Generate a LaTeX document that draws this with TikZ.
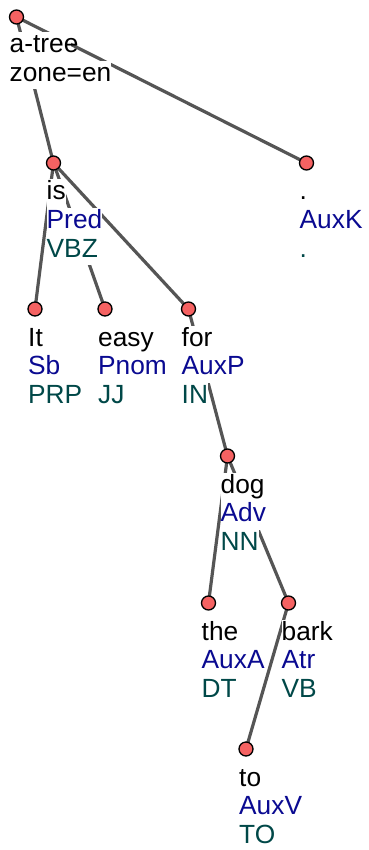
\documentclass[tikz,border=0pt]{standalone}
\usepackage{fontspec}
\setmainfont{Liberation Sans}
\definecolor{edgegray}{RGB}{85,85,85}
\definecolor{nodered}{RGB}{245,98,98}
\definecolor{funcblue}{RGB}{10,10,145}
\definecolor{posteal}{RGB}{0,72,72}
\pgfdeclarelayer{bg}
\pgfsetlayers{bg,main}
\tikzset{
  edge/.style={draw=edgegray, line width=3.2pt},
  tnode/.style={circle, draw=black, fill=nodered, line width=1.3pt, minimum size=14pt, inner sep=0pt},
  lbl/.style={anchor=base west, fill=white, inner sep=0pt, text height=20.5pt, text depth=8pt,
              font=\fontsize{26.3}{28.5}\selectfont},
}
\newcommand\tlbl[4]{%
  \node[lbl, text=black,    xshift=-7pt, yshift=-37pt]   (#1-w) at (#1) {#2};
  \node[lbl, text=funcblue, xshift=-7pt, yshift=-65.5pt] (#1-f) at (#1) {#3};
  \node[lbl, text=posteal,  xshift=-7pt, yshift=-94pt]   (#1-p) at (#1) {#4};}
\begin{document}
\begin{tikzpicture}[x=1pt,y=-1pt]
\useasboundingbox (0,0) rectangle (368,850);
% tree nodes
\node[tnode] (root) at (16.5,17) {};
\node[tnode] (is)   at (53.5,163) {};
\node[tnode] (dot)  at (306.5,163) {};
\node[tnode] (It)   at (35,309) {};
\node[tnode] (easy) at (105,309) {};
\node[tnode] (for)  at (188.5,309) {};
\node[tnode] (dog)  at (227.5,456) {};
\node[tnode] (the)  at (208.5,603) {};
\node[tnode] (bark) at (288.5,603) {};
\node[tnode] (to)   at (246,749) {};
% labels
\node[lbl, text=black, xshift=-7pt, yshift=-36pt] (root-w) at (root) {\makebox[61pt][l]{a-tree}};
\node[lbl, text=black, xshift=-7pt, yshift=-64.5pt] (root-z) at (root) {zone=en};
\tlbl{is}{is}{Pred}{VBZ}
\tlbl{dot}{.}{AuxK}{.}
\tlbl{It}{It}{Sb}{PRP}
\tlbl{easy}{easy}{Pnom}{JJ}
\tlbl{for}{for}{AuxP}{IN}
\tlbl{dog}{dog}{Adv}{NN}
\tlbl{the}{the}{AuxA}{DT}
\tlbl{bark}{bark}{Atr}{VB}
\tlbl{to}{to}{AuxV}{TO}
% edges
\begin{pgfonlayer}{bg}
\draw[edge] (root.center) -- (is.center);
\draw[edge] (root.center) -- (dot.center);
\draw[edge] (is.center) -- (It.center);
\draw[edge] (is.center) -- (easy.center);
\draw[edge] (is.center) -- (for.center);
\draw[edge] (for.center) -- (dog.center);
\draw[edge] (dog.center) -- (the.center);
\draw[edge] (dog.center) -- (bark.center);
\draw[edge] (bark.center) -- (to.center);
\end{pgfonlayer}
\end{tikzpicture}
\end{document}
